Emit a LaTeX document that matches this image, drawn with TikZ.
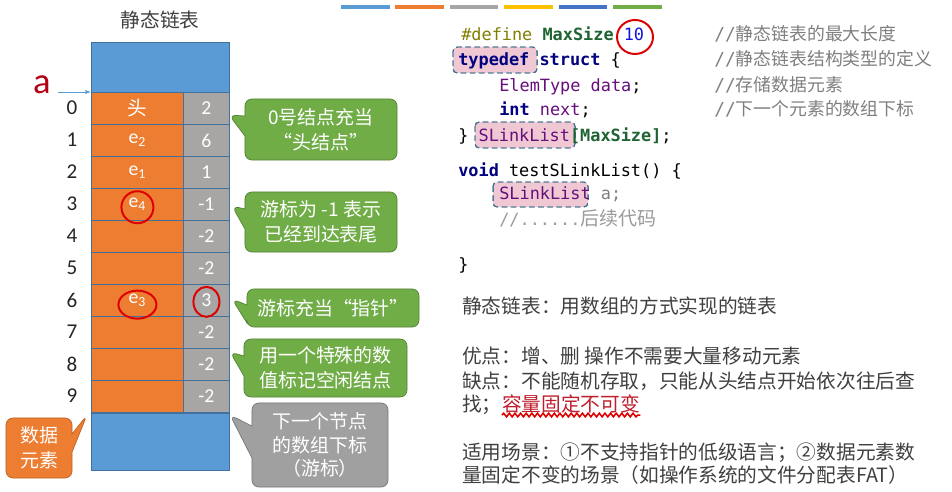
\documentclass[tikz,border=0pt]{standalone}
\usepackage{fontspec}
\setmainfont{Noto Sans CJK SC}
\setmonofont{DejaVu Sans Mono}
\newfontfamily\latinfont{Carlito}
\usepackage{xcolor}
\definecolor{tabblue}{RGB}{91,155,213}
\definecolor{taborange}{RGB}{237,125,49}
\definecolor{tabgray}{RGB}{168,165,165}
\definecolor{tabline}{RGB}{65,113,156}
\definecolor{calgreen}{RGB}{112,173,71}
\definecolor{calgray}{RGB}{160,160,160}
\definecolor{baryellow}{RGB}{255,192,0}
\definecolor{bardblue}{RGB}{68,114,196}
\definecolor{markred}{RGB}{222,0,0}
\definecolor{darkred}{RGB}{178,0,20}
\definecolor{txtgray}{RGB}{64,64,64}
\definecolor{cmtgray}{RGB}{128,128,128}
\definecolor{kwnavy}{RGB}{0,0,128}
\definecolor{idpurple}{RGB}{102,14,122}
\definecolor{macgreen}{RGB}{30,100,50}
\definecolor{ppolive}{RGB}{128,128,0}
\definecolor{numblue}{RGB}{20,20,220}
\definecolor{hlpink}{RGB}{240,200,212}
\definecolor{hlline}{RGB}{60,110,140}
\definecolor{capred}{RGB}{190,30,45}
\usepackage{tikz}
\usetikzlibrary{arrows.meta, positioning, shapes.callouts, decorations.pathmorphing}

\begin{document}
\begin{tikzpicture}[x=0.025cm, y=-0.025cm,
    datacell/.style={draw=tabline, fill=taborange, line width=0.6pt,
      minimum width=2.3cm, minimum height=0.8cm, inner sep=0pt,
      anchor=north west, text=white,
      font=\latinfont\fontsize{14}{16}\selectfont},
    nextcell/.style={datacell, fill=tabgray, minimum width=1.15cm},
    idx/.style={text=black!85, font=\latinfont\fontsize{15}{16}\selectfont},
    bubble/.style={rectangle callout, fill=calgreen, draw=calgreen!75!black,
      line width=0.5pt, rounded corners=5pt, text=white, align=center,
      inner sep=2pt, font=\fontsize{13.5}{17.5}\selectfont},
    codeline/.style={anchor=base west, inner sep=0pt,
      font=\ttfamily\fontsize{12}{14}\selectfont},
    cmt/.style={anchor=base west, inner sep=0pt, text=cmtgray,
      font=\fontsize{12.7}{16}\selectfont},
    note/.style={anchor=base west, inner sep=0pt, text=txtgray,
      font=\fontsize{14}{17}\selectfont},
    hl/.style={fill=hlpink, draw=hlline, dash pattern=on 4pt off 2.5pt,
      line width=0.7pt, rounded corners=3pt},
    redmark/.style={draw=markred, line width=1.4pt}]
  \useasboundingbox (0,0) rectangle (952,492);
  \fill[white] (0,0) rectangle (952,492);

  % colour strip at the top
  \foreach \c [count=\k from 0] in {tabblue, taborange, tabgray, baryellow, bardblue, calgreen}
    \fill[\c] (341+54.4*\k,5) rectangle ++(48.5,4);

  % static list table
  \node[text=txtgray, font=\fontsize{14}{16}\selectfont] (title) at (160,20) {静态链表};
  \node[datacell, fill=tabblue, minimum width=3.45cm, minimum height=1.25cm] (top) at (91,42) {};
  \foreach \i/\d/\n in {0/{\rmfamily 头}/2, 1/e\textsubscript{2}/6, 2/e\textsubscript{1}/1,
      3/e\textsubscript{4}/-1, 4//-2, 5//-2, 6/e\textsubscript{3}/3, 7//-2, 8//-2, 9//-2} {
    \node[datacell] (d\i) at (91,92+32*\i) {\d};
    \node[nextcell] (n\i) at (183,92+32*\i) {\n};
    \node[idx] (i\i) at (72,108+32*\i) {\i};
  }
  \node[datacell, fill=tabblue, minimum width=3.45cm, minimum height=1.425cm] (bot) at (d9.south west) {};

  % pointer a
  \node[text=darkred, font=\latinfont\fontsize{26}{28}\selectfont] (a) at (42,85) {a};
  \coordinate (astart) at (58,92);
  \draw[-{Latex[length=4pt,width=3pt]}, tabblue, line width=0.6pt] (astart) -- (d0.north west);

  % hand-drawn marks
  \draw[redmark] ([yshift=-2pt]d3.center) ellipse [x radius=16, y radius=16];
  \draw[redmark] ([yshift=-3pt]d6.center) ellipse [x radius=19, y radius=14];
  \draw[redmark] ([yshift=-1pt]n6.center) ellipse [x radius=13, y radius=15];

  % callouts
  \node[bubble, minimum width=3.8cm, minimum height=1.525cm, callout pointer width=0.5cm,
        callout absolute pointer={(229,115)}] (c0) at (321,129.5) {0号结点充当\\“头结点”};
  \node[bubble, minimum width=3.8cm, minimum height=1.5cm, callout pointer width=0.5cm,
        callout absolute pointer={(232,206)}] (c1) at (321,222) {游标为 -1 表示\\已经到达表尾};
  \node[bubble, minimum width=4.3cm, minimum height=0.95cm, callout pointer width=0.45cm,
        callout absolute pointer={(232,299)}] (c2) at (333,308) {游标充当“指针”};
  \node[bubble, minimum width=4.075cm, minimum height=1.45cm, callout pointer width=0.5cm,
        callout absolute pointer={(230,352)}] (c3) at (325.5,368) {用一个特殊的数\\值标记空闲结点};
  \node[bubble, fill=calgray, draw=calgray!75!black, minimum width=3.4cm, minimum height=2.1cm,
        callout pointer width=0.8cm, font=\fontsize{13.5}{16.5}\selectfont,
        callout absolute pointer={(230,415)}] (c4) at (320,445) {下一个节点\\的数组下标\\（游标）};
  \node[bubble, fill=taborange, draw=taborange!80!black, minimum width=1.65cm, minimum height=1.5cm,
        callout pointer width=0.45cm,
        callout absolute pointer={(87,415)}] (c5) at (39,448) {数据\\元素};

  % code
  \fill[hl] (453,47) rectangle (537,73);
  \fill[hl] (475,122) rectangle (575,148);
  \fill[hl] (493,182) rectangle (588,207);
  \draw[hl, fill=none] (453,47) rectangle (537,73);
  \draw[hl, fill=none] (475,122) rectangle (575,148);
  \draw[hl, fill=none] (493,182) rectangle (588,207);
  \node[codeline, text=ppolive] (l1) at (461,41)
    {\#define \textcolor{macgreen}{\bfseries MaxSize} \textcolor{numblue}{10}};
  \node[codeline, text=kwnavy] (l2) at (458,66) {\bfseries typedef struct \textcolor{black}{\mdseries\{}};
  \node[codeline, text=idpurple] (l3) at (499,92) {ElemType data\textcolor{black}{;}};
  \node[codeline, text=idpurple] (l4) at (499,116) {\textcolor{kwnavy}{\bfseries int} next\textcolor{black}{;}};
  \node[codeline] (l5) at (458,142)
    {\} \textcolor{idpurple}{SLinkList}\textcolor{macgreen}{\bfseries [MaxSize]};};
  \node[codeline] (l6) at (458,177) {\textcolor{kwnavy}{\bfseries void} testSLinkList() \{};
  \node[codeline, text=cmtgray] (l7) at (499,199) {\textcolor{idpurple}{SLinkList} a;};
  \node[codeline, text=cmtgray!80] (l8) at (499,225) {//......{\rmfamily\fontsize{13.5}{16}\selectfont 后续代码}};
  \node[codeline] (l9) at (458,270) {\}};
  \draw[redmark] (635,37) ellipse [x radius=18, y radius=17];

  % comments
  \node[cmt] (m1) at (714,41) {{\ttfamily //}静态链表的最大长度};
  \node[cmt] (m2) at (714,66) {{\ttfamily //}静态链表结构类型的定义};
  \node[cmt] (m3) at (714,92) {{\ttfamily //}存储数据元素};
  \node[cmt] (m4) at (714,116) {{\ttfamily //}下一个元素的数组下标};

  % notes
  \node[note] (t1) at (462,313) {静态链表：用数组的方式实现的链表};
  \node[note] (t2) at (462,363) {优点：增、删 操作不需要大量移动元素};
  \node[note] (t3) at (462,388) {缺点：不能随机存取，只能从头结点开始依次往后查};
  \node[note] (t4) at (462,411) {找；};
  \node[note, text=capred] (cap) at (t4.base east) {容量固定不可变};
  \draw[markred, line width=1.1pt, decorate, decoration={snake, amplitude=1.3pt, segment length=4pt}]
    ([yshift=-1.5pt]cap.south west) -- ([yshift=-1.5pt]cap.south east);
  \node[note] (t5) at (462,459) {适用场景：①不支持指针的低级语言；②数据元素数};
  \node[note] (t6) at (462,482) {量固定不变的场景（如操作系统的文件分配表FAT）};
\end{tikzpicture}
\end{document}
